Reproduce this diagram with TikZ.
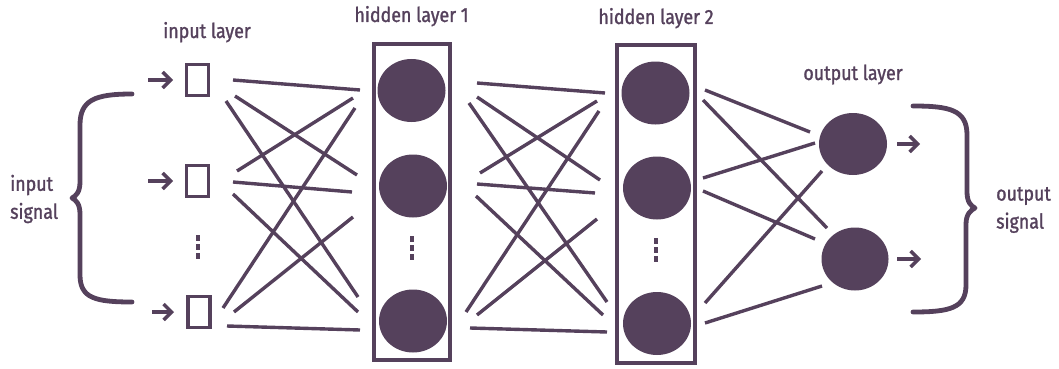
\documentclass[tikz,border=0pt]{standalone}
\usepackage{fontspec}
\setmainfont[FakeStretch=0.87,FakeBold=1.3]{Fira Sans}
\usetikzlibrary{calc,arrows.meta,shapes.geometric}
\definecolor{ink}{RGB}{85,65,92}
\begin{document}
\begin{tikzpicture}[x=1pt,y=-1pt,
 conn/.style={draw=ink,line width=3.4pt},
 sq/.style={draw=ink,line width=3.8pt,minimum width=22pt,minimum height=31pt,inner sep=0pt,outer sep=0pt},
 neuron/.style={ellipse,fill=ink,minimum width=68pt,minimum height=63pt,inner sep=0pt},
 layerbox/.style={draw=ink,line width=4.2pt,inner sep=0pt},
 arr/.style={draw=ink,line width=3.4pt,-{Straight Barb[length=8pt,width=16pt]}},
 lbl/.style={text=ink,font=\fontsize{20.5}{28}\selectfont,inner sep=0pt},
 brace/.style={draw=ink,line width=4.8pt,line cap=round,line join=round}
]
\useasboundingbox (0,0) rectangle (1059,369);
% boxes
\node[layerbox,minimum width=76pt,minimum height=316pt] (box1) at (412,202) {};
\node[layerbox,minimum width=78pt,minimum height=318pt] (box2) at (656,204) {};
% input squares
\node[sq] (in1) at (197.5,80) {};
\node[sq] (in2) at (197.5,181) {};
\node[sq] (in3) at (199,312) {};
% hidden 1
\node[neuron] (h11) at (411.5,90.5) {};
\node[neuron] (h12) at (413,186) {};
\node[neuron] (h13) at (413,321) {};
% hidden 2
\node[neuron] (h21) at (655.5,93) {};
\node[neuron] (h22) at (657,188) {};
\node[neuron] (h23) at (657,323.5) {};
% output
\node[neuron,minimum height=62pt] (o1) at (853,144) {};
\node[neuron,minimum width=67pt] (o2) at (855,259) {};
% dots
\foreach \x/\y in {198/238,412/239,656/241}{
  \foreach \d in {0,9,18}{
    \fill[ink] (\x-2.2,\y+\d-2.7) rectangle (\x+2.2,\y+\d+2.7);
  }
}
% labels
\node[lbl,anchor=base] (l0) at (207,38) {input layer};
\node[lbl,anchor=base] (l1) at (411.5,22) {hidden layer 1};
\node[lbl,anchor=base] (l2) at (656,24) {hidden layer 2};
\node[lbl,anchor=base] (l3) at (853,80) {output layer};
\node[lbl,anchor=west,align=left] (insig) at (10,199) {input\\signal};
\node[lbl,anchor=west,align=left] (outsig) at (996,210) {output\\signal};
% input arrows
\draw[arr] ($(in1)+(-49.5,0)$) -- ($(in1)+(-24.5,0)$);
\draw[arr] ($(in2)+(-49.5,0)$) -- ($(in2)+(-24.5,0)$);
\draw[arr] ($(in3)+(-47,0)$) -- ($(in3)+(-25,0)$);
% output arrows
\draw[arr] ($(o1)+(44,0)$) -- ($(o1)+(67,0)$);
\draw[arr] ($(o2)+(42,0)$) -- ($(o2)+(66,0)$);
% input -> hidden 1
\draw[conn] ($(in1)+(35.5,0)$) -- ($(h11)+(-51.5,-0.5)$);
\draw[conn] ($(in1)+(37.5,16)$) -- ($(h12)+(-56,-11)$);
\draw[conn] ($(in1)+(28.5,21)$) -- ($(h13)+(-55,-24)$);
\draw[conn] ($(in2)+(39.5,-10)$) -- ($(h11)+(-58.5,7.5)$);
\draw[conn] ($(in2)+(35.5,1)$) -- ($(h12)+(-61,6)$);
\draw[conn] ($(in2)+(35.5,13)$) -- ($(h13)+(-55,-9)$);
\draw[conn] ($(in3)+(24,-4)$) -- ($(h11)+(-56.5,17.5)$);
\draw[conn] ($(in3)+(35,0)$) -- ($(h12)+(-60,31)$);
\draw[conn] ($(in3)+(28,14)$) -- ($(h13)+(-53,9)$);
% hidden 1 -> hidden 2
\draw[conn] ($(h11)+(65.5,-7.5)$) -- ($(h21)+(-50.5,0)$);
\draw[conn] ($(h11)+(65.5,6.5)$) -- ($(h22)+(-57,-8)$);
\draw[conn] ($(h11)+(57.5,12.5)$) -- ($(h23)+(-50,-21.5)$);
\draw[conn] ($(h12)+(67,-13)$) -- ($(h21)+(-58.5,8)$);
\draw[conn] ($(h12)+(64,-2)$) -- ($(h22)+(-62,5)$);
\draw[conn] ($(h12)+(63,10)$) -- ($(h23)+(-54,-8.5)$);
\draw[conn] ($(h13)+(53,-9)$) -- ($(h21)+(-56.5,18)$);
\draw[conn] ($(h13)+(64,-6)$) -- ($(h22)+(-60,31)$);
\draw[conn] ($(h13)+(57,7)$) -- ($(h23)+(-50,8.5)$);
% hidden 2 -> output
\draw[conn] ($(h21)+(49.5,-3)$) -- ($(o1)+(-43,-12)$);
\draw[conn] ($(h21)+(47.5,7)$) -- ($(o2)+(-28,-31)$);
\draw[conn] ($(h22)+(46,-10)$) -- ($(o1)+(-38,-1)$);
\draw[conn] ($(h22)+(46,3)$) -- ($(o2)+(-40,-20)$);
\draw[conn] ($(h23)+(48,-20.5)$) -- ($(o1)+(-31,27)$);
\draw[conn] ($(h23)+(48,-0.5)$) -- ($(o2)+(-33,27)$);
% braces
\draw[brace] (132,94) .. controls (95,94) and (80,100) .. (80,125) -- (80,182)
  .. controls (80,192) and (76,196) .. (72,198) .. controls (76,200) and (80,204) .. (80,214)
  -- (80,275) .. controls (80,298) and (95,302) .. (132,302);
\draw[brace] (913,106) .. controls (950,106) and (967,110) .. (967,135) -- (967,192)
  .. controls (967,202) and (971,206) .. (975,208) .. controls (971,210) and (966,214) .. (966,224)
  -- (966,285) .. controls (966,308) and (950,312) .. (913,312);
\end{tikzpicture}
\end{document}
